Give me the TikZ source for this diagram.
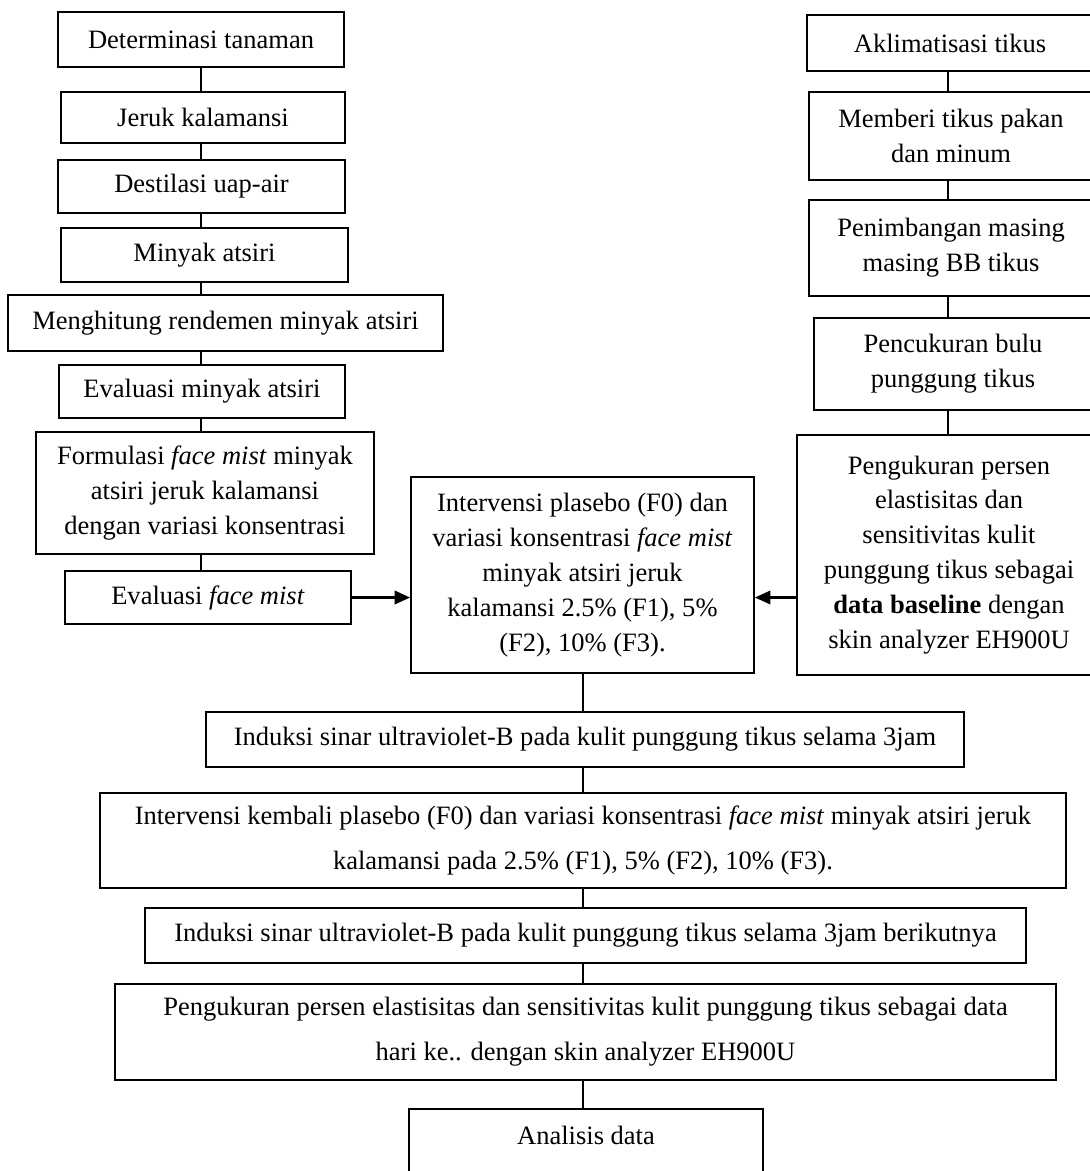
\documentclass[tikz,border=0pt]{standalone}
\usepackage{fontspec}
\setmainfont{Liberation Serif}
\usepackage{tikz}
\usetikzlibrary{arrows.meta,calc}

\begin{document}
\begin{tikzpicture}[x=0.4527pt,y=-0.4527pt,line width=0.8pt,
                    >={Triangle[length=7pt,width=6pt]},
                    font=\fontsize{12pt}{15.8pt}\selectfont]
  \tikzset{box/.style 2 args={rectangle,draw=black,fill=white,align=center,
             inner sep=0pt,minimum width=#1*0.4527pt,minimum height=#2*0.4527pt}}
  \tikzstyle{wide}=[font=\fontsize{12pt}{20.5pt}\selectfont]

  \useasboundingbox (0,0) rectangle (1089,1171);

  % connector columns
  \coordinate (lc) at (201,0);
  \coordinate (cc) at (583,0);
  \coordinate (rc) at (948,0);

  % left column
  \node[box={286}{55}] (det)     at (201,39.5)   {Determinasi tanaman};
  \node[box={284}{51}] (jeruk)   at (203,117.5)  {Jeruk kalamansi};
  \node[box={287}{53}] (dest)    at (201.5,186.5) {Destilasi uap-air};
  \node[box={287}{54}] (minyak)  at (204.5,255)  {Minyak atsiri};
  \node[box={435}{56}] (hitung)  at (225.5,323)  {Menghitung rendemen minyak atsiri};
  \node[box={286}{53}] (evalmin) at (202,391.5)  {Evaluasi minyak atsiri};
  \node[box={338}{122}] (formula) at (205,493)
    {Formulasi \textit{face mist} minyak\\atsiri jeruk kalamansi\\dengan variasi konsentrasi};
  \node[box={286}{53}] (evalfm)  at (208,597.5)  {Evaluasi \textit{face mist}};

  % right column (runs past the right margin)
  \node[box={286}{56}] (aklim)   at (950,43)     {Aklimatisasi tikus};
  \node[box={284}{88}] (pakan)   at (951,136)    {Memberi tikus pakan\\dan minum};
  \node[box={284}{96}] (timbang) at (951,248)    {Penimbangan masing\\masing BB tikus};
  \node[box={278}{92}] (cukur)   at (953,364)    {Pencukuran bulu\\punggung tikus};
  \node[box={304}{240}] (base)   at (949,555)
    {Pengukuran persen\\elastisitas dan\\sensitivitas kulit\\punggung tikus sebagai\\\textbf{data baseline} dengan\\skin analyzer EH900U};

  % centre and bottom
  \node[box={343}{196}] (interv) at (582.5,575)
    {Intervensi plasebo (F0) dan\\variasi konsentrasi \textit{face mist}\\minyak atsiri jeruk\\kalamansi 2.5\% (F1), 5\%\\(F2), 10\% (F3).};
  \node[box={758}{55}] (uvb)     at (585,739.5)
    {Induksi sinar ultraviolet-B pada kulit punggung tikus selama 3jam};
  \node[box={966}{95},wide] (kembali) at (583,840.5)
    {Intervensi kembali plasebo (F0) dan variasi konsentrasi \textit{face mist} minyak atsiri jeruk\\kalamansi pada 2.5\% (F1), 5\% (F2), 10\% (F3).};
  \node[box={881}{55}] (uvbnext) at (585.5,935.5)
    {Induksi sinar ultraviolet-B pada kulit punggung tikus selama 3jam berikutnya};
  \node[box={941}{96},wide] (hari) at (585.5,1032)
    {Pengukuran persen elastisitas dan sensitivitas kulit punggung tikus sebagai data\\hari ke.. dengan skin analyzer EH900U};
  \node[box={354}{0},anchor=north,inner ysep=8pt,text depth=60pt] (analisis) at (586,1108)
    {Analisis data};

  \path (lc |- det.south)     edge (lc |- jeruk.north)
        (lc |- jeruk.south)   edge (lc |- dest.north)
        (lc |- dest.south)    edge (lc |- minyak.north)
        (lc |- minyak.south)  edge (lc |- hitung.north)
        (lc |- hitung.south)  edge (lc |- evalmin.north)
        (lc |- evalmin.south) edge (lc |- formula.north)
        (lc |- formula.south) edge (lc |- evalfm.north)
        (rc |- aklim.south)   edge (rc |- pakan.north)
        (rc |- pakan.south)   edge (rc |- timbang.north)
        (rc |- timbang.south) edge (rc |- cukur.north)
        (rc |- cukur.south)   edge (rc |- base.north)
        (cc |- interv.south)  edge (cc |- uvb.north)
        (cc |- uvb.south)     edge (cc |- kembali.north)
        (cc |- kembali.south) edge (cc |- uvbnext.north)
        (cc |- uvbnext.south) edge (cc |- hari.north)
        (cc |- hari.south)    edge (cc |- analisis.north)
        (evalfm.east)         edge [->,line width=1.2pt] (evalfm.east -| interv.west)
        (base.west |- evalfm.east) edge [->,line width=1.2pt] (interv.east |- evalfm.east);
\end{tikzpicture}
\end{document}
